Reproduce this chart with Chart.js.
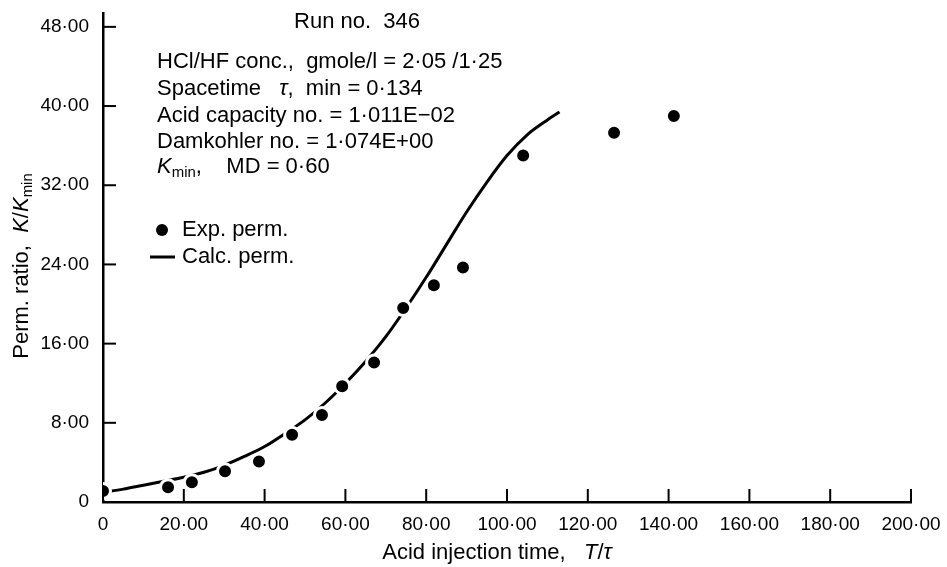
<!DOCTYPE html>
<html>
<head>
<meta charset="utf-8">
<script src="https://cdn.jsdelivr.net/npm/chart.js@4/dist/chart.umd.min.js"></script>
<style>
  body { margin: 0; background: #fff; }
  #wrap { width: 947px; height: 567px; position: relative; }
</style>
</head>
<body>
<div id="wrap"><canvas id="permChart"></canvas></div>
<script>
// Experimental permeability ratio (dots)
const expTime = [0, 16.1, 22, 30.2, 38.6, 46.8, 54.2, 59.2, 67.1, 74.3, 81.9, 89.1, 104, 126.5, 141.3];
const expPerm = [1.1, 1.5, 2.0, 3.1, 4.1, 6.8, 8.8, 11.7, 14.1, 19.6, 21.9, 23.7, 35.0, 37.3, 39.0];

// Calculated permeability ratio (curve)
const calcTime = [0, 5, 10, 15, 20, 25, 30, 35, 40, 45, 50, 55, 60, 65, 70, 75, 80, 85, 90, 95, 100, 105, 110, 113];
const calcPerm = [1.0, 1.3, 1.7, 2.1, 2.5, 3.0, 3.7, 4.6, 5.6, 6.9, 8.3, 10.0, 12.0, 14.2, 16.7, 19.6, 22.7, 26.0, 29.3, 32.3, 35.0, 37.1, 38.6, 39.4];

const xTicks = [0, 20, 40, 60, 80, 100, 120, 140, 160, 180, 200];
const yTicks = [0, 8, 16, 24, 32, 40, 48];

const FONT = '"Liberation Sans", Arial, sans-serif';
const fmt = v => v === 0 ? '0' : v.toFixed(2).replace('.', '\u00b7');

// draw a run of text pieces, some italic or subscript
function drawRich(ctx, parts, x, y, size) {
  let cx = x;
  parts.forEach(p => {
    const s = p.sub ? size * 0.68 : size;
    ctx.font = (p.it ? 'italic ' : '') + s + 'px ' + FONT;
    ctx.fillText(p.t, cx, p.sub ? y + size * 0.28 : y);
    cx += ctx.measureText(p.t).width;
  });
  return cx - x;
}
function richWidth(ctx, parts, size) {
  let w = 0;
  parts.forEach(p => {
    const s = p.sub ? size * 0.68 : size;
    ctx.font = (p.it ? 'italic ' : '') + s + 'px ' + FONT;
    w += ctx.measureText(p.t).width;
  });
  return w;
}

const decor = {
  id: 'decor',
  afterDraw(chart) {
    const ctx = chart.ctx;
    const xs = chart.scales.x, ys = chart.scales.y;
    ctx.save();
    ctx.strokeStyle = '#000';
    ctx.fillStyle = '#000';
    ctx.lineWidth = 2;
    // inward tick marks
    xTicks.forEach(v => {
      const px = xs.getPixelForValue(v);
      ctx.beginPath(); ctx.moveTo(px, ys.bottom); ctx.lineTo(px, ys.bottom - 13); ctx.stroke();
    });
    yTicks.forEach(v => {
      const py = ys.getPixelForValue(v);
      ctx.beginPath(); ctx.moveTo(xs.left, py); ctx.lineTo(xs.left + 13, py); ctx.stroke();
    });

    ctx.textBaseline = 'middle';
    const fs = 22;
    // header text
    ctx.font = fs + 'px ' + FONT;
    ctx.textAlign = 'center';
    ctx.fillText('Run no.  346', 357, 22);
    ctx.textAlign = 'left';
    const lines = [
      [{t: 'HCl/HF conc.,  gmole/l = 2\u00b705 /1\u00b725'}],
      [{t: 'Spacetime   '}, {t: '\u03c4', it: true}, {t: ',  min = 0\u00b7134'}],
      [{t: 'Acid capacity no. = 1\u00b7011E\u221202'}],
      [{t: 'Damkohler no. = 1\u00b7074E+00'}],
      [{t: 'K', it: true}, {t: 'min', sub: true}, {t: ',    MD = 0\u00b760'}]
    ];
    const ly = [62, 89, 116, 142, 167];
    lines.forEach((l, i) => drawRich(ctx, l, 157, ly[i], fs));

    // legend
    ctx.beginPath(); ctx.arc(162, 230, 6, 0, Math.PI * 2); ctx.fill();
    ctx.font = fs + 'px ' + FONT;
    ctx.fillText('Exp. perm.', 182, 230);
    ctx.lineWidth = 3;
    ctx.beginPath(); ctx.moveTo(150, 257); ctx.lineTo(175, 257); ctx.stroke();
    ctx.fillText('Calc. perm.', 182, 257);

    // x-axis title
    const xt = [{t: 'Acid injection time,   '}, {t: 'T', it: true}, {t: '/'}, {t: '\u03c4', it: true}];
    const xw = richWidth(ctx, xt, fs);
    drawRich(ctx, xt, 497 - xw / 2, 553, fs);

    // y-axis title
    const yt = [{t: 'Perm. ratio,  '}, {t: 'K', it: true}, {t: '/'}, {t: 'K', it: true}, {t: 'min', sub: true}];
    const yw = richWidth(ctx, yt, fs);
    ctx.translate(22, 266);
    ctx.rotate(-Math.PI / 2);
    drawRich(ctx, yt, -yw / 2, 0, fs);
    ctx.restore();
  }
};

new Chart(document.getElementById('permChart'), {
  type: 'scatter',
  data: {
    datasets: [{
      label: 'Exp. perm.',
      data: expTime.map((t, i) => ({x: t, y: expPerm[i]})),
      backgroundColor: '#000',
      borderColor: '#fff',
      borderWidth: 3,
      pointRadius: 7.5,
      order: 0
    }, {
      label: 'Calc. perm.',
      data: calcTime.map((t, i) => ({x: t, y: calcPerm[i]})),
      showLine: true,
      borderColor: '#000',
      borderWidth: 3,
      pointRadius: 0,
      cubicInterpolationMode: 'monotone',
      order: 1
    }]
  },
  options: {
    responsive: true,
    maintainAspectRatio: false,
    animation: false,
    layout: { padding: { top: 13, right: 36, left: 0, bottom: 0 } },
    plugins: {
      legend: { display: false },
      tooltip: { enabled: false }
    },
    scales: {
      x: {
        type: 'linear',
        min: 0, max: 200,
        afterBuildTicks: s => { s.ticks = xTicks.map(v => ({value: v})); },
        afterFit: s => { s.height = 65; s.paddingLeft = 0; s.paddingRight = 0; },
        grid: { display: false, drawTicks: false },
        border: { display: true, color: '#000', width: 2.5 },
        ticks: { color: '#000', padding: 11, maxRotation: 0, font: { size: 19, family: FONT }, callback: v => fmt(v) }
      },
      y: {
        type: 'linear',
        min: 0, max: 49.4,
        afterBuildTicks: s => { s.ticks = yTicks.map(v => ({value: v})); },
        afterFit: s => { s.width = 103; s.paddingTop = 0; s.paddingBottom = 0; },
        grid: { display: false, drawTicks: false },
        border: { display: true, color: '#000', width: 2.5 },
        ticks: { color: '#000', padding: 14, font: { size: 19, family: FONT }, callback: v => fmt(v) }
      }
    }
  },
  plugins: [decor]
});
</script>
</body>
</html>
